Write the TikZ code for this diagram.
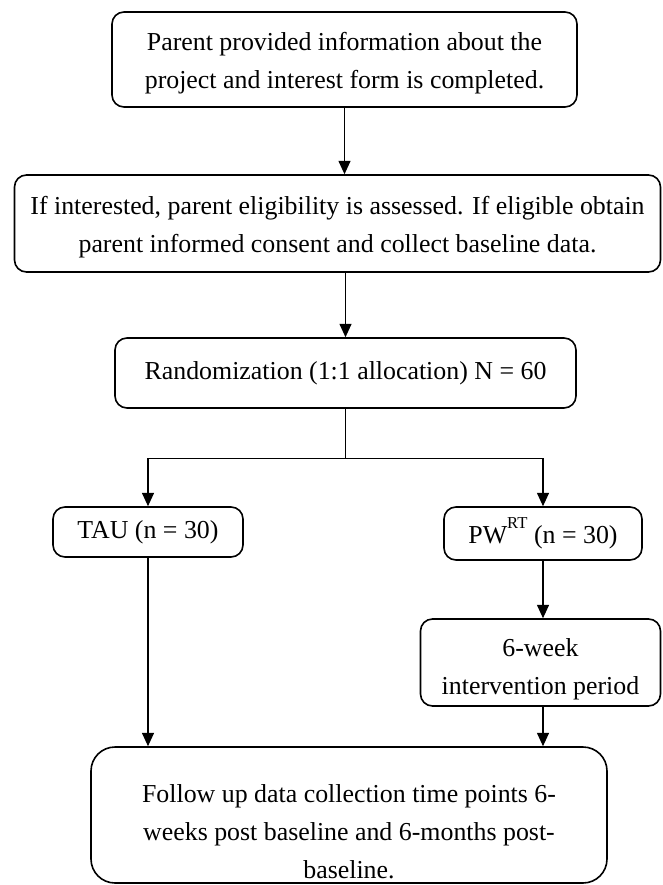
\documentclass[tikz,border=0pt]{standalone}
\usepackage{fontspec}
\setmainfont{Liberation Serif}
\usetikzlibrary{arrows.meta}
\tikzset{
  box/.style={draw,line width=1.2pt,rounded corners=9pt,align=center,inner sep=0pt,
    font=\fontsize{19.4}{28.5}\selectfont},
  arr/.style={line width=0.9pt,-{Triangle[length=10pt,width=9pt]}}
}
\begin{document}
\begin{tikzpicture}[x=0.75pt,y=-0.75pt]
  \useasboundingbox (0,0) rectangle (662,885);
  \node[box,text height=47.5pt,minimum width=0.75pt*465,minimum height=0.75pt*95] (intro) at (344.5,59.5)
    {Parent provided information about the\\project and interest form is completed.};
  \node[box,text height=47.5pt,minimum width=0.75pt*646,minimum height=0.75pt*97] (elig) at (337.5,223.5)
    {If interested, parent eligibility is assessed. If eligible obtain\\parent informed consent and collect baseline data.};
  \node[box,minimum width=0.75pt*461,minimum height=0.75pt*70] (rand) at (345.5,373)
    {Randomization (1:1 allocation) N = 60};
  \node[box,minimum width=0.75pt*190,minimum height=0.75pt*50] (tau) at (148,532) {TAU (n = 30)};
  \node[box,minimum width=0.75pt*198,minimum height=0.75pt*53] (pw) at (543,533.5)
    {PW\raisebox{0.6em}{\fontsize{12.5}{12.5}\selectfont RT} (n = 30)};
  \node[box,text height=52pt,minimum width=0.75pt*240,minimum height=0.75pt*87] (week) at (540.5,662.5)
    {6-week\\intervention period};
  \node[box,rounded corners=18pt,text height=95.5pt,minimum width=0.75pt*516,minimum height=0.75pt*136] (follow) at (349,815)
    {Follow up data collection time points 6-\\weeks post baseline and 6-months post-\\baseline.};
  \draw[arr] (intro.south) -- (intro.south |- elig.north);
  \draw[arr] (rand.north |- elig.south) -- (rand.north);
  \draw[line width=0.9pt] (rand.south) -- ++(0,50) coordinate (split);
  \draw[arr] (split) -| (tau.north);
  \draw[arr] (split) -| (pw.north);
  \draw[arr] (pw.south) -- (pw.south |- week.north);
  \draw[arr] (tau.south) -- (tau.south |- follow.north);
  \draw[arr] (pw.south |- week.south) -- (pw.south |- follow.north);
\end{tikzpicture}
\end{document}
